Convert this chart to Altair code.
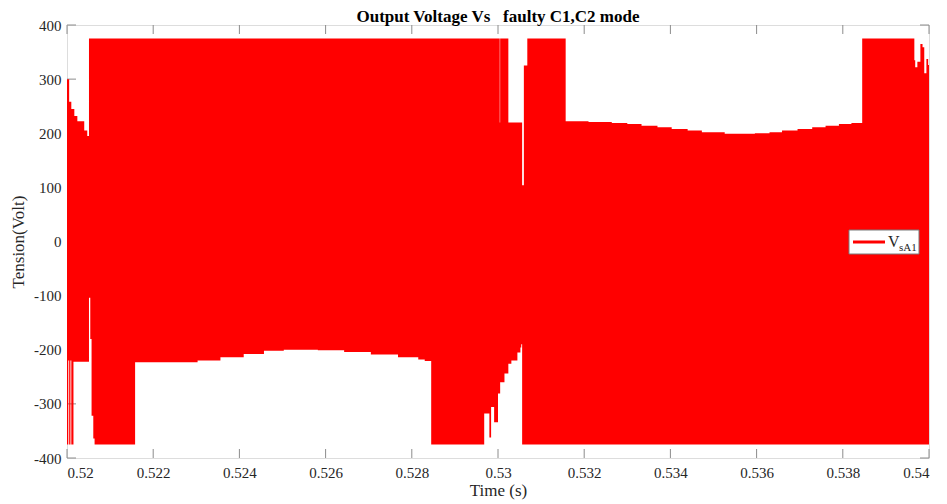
import altair as alt
import pandas as pd

# Envelope of the switching output voltage V_sA1 (step-wise, seconds / volts)
time_s = [
    0.52000, 0.52003, 0.52005, 0.52008, 0.52010, 0.52015, 0.52017, 0.52024,
    0.52040, 0.52047, 0.52051, 0.52054, 0.52057, 0.52061, 0.52064, 0.52158,
    0.52263, 0.52303, 0.52356, 0.52410, 0.52457, 0.52503, 0.52582, 0.52643,
    0.52705, 0.52768, 0.52815, 0.52830, 0.52845, 0.52968, 0.52980, 0.52984,
    0.52991, 0.53000, 0.53004, 0.53005, 0.53015, 0.53024, 0.53031, 0.53045,
    0.53052, 0.53054, 0.53056, 0.53060, 0.53068, 0.53157, 0.53210, 0.53264,
    0.53300, 0.53333, 0.53370, 0.53403, 0.53440, 0.53473, 0.53526, 0.53596,
    0.53630, 0.53659, 0.53695, 0.53729, 0.53760, 0.53791, 0.53820, 0.53845,
    0.53966, 0.53968, 0.53973, 0.53980, 0.53985, 0.53989, 0.53994, 0.53998,
    0.54000,
]
v_upper = [
    300, 300, 258, 258, 245, 245, 232, 222,
    205, 195, 375, 375, 375, 375, 375, 375,
    375, 375, 375, 375, 375, 375, 375, 375,
    375, 375, 375, 375, 375, 375, 375, 375,
    375, 375, 220, 375, 375, 220, 220, 220,
    220, 220, 104, 325, 375, 222, 221, 219,
    217, 214, 211, 208, 205, 202, 199, 200,
    202, 205, 208, 211, 214, 217, 219, 375,
    335, 322, 332, 365, 359, 311, 337, 326,
    326,
]
v_lower = [
    -375, -220, -375, -220, -375, -222, -222, -222,
    -222, -222, -104, -180, -322, -364, -375, -223,
    -223, -220, -214, -208, -202, -200, -201, -204,
    -209, -214, -218, -221, -375, -318, -362, -306,
    -334, -281, -281, -260, -244, -226, -220, -205,
    -196, -190, -375, -375, -375, -375, -375, -375,
    -375, -375, -375, -375, -375, -375, -375, -375,
    -375, -375, -375, -375, -375, -375, -375, -375,
    -375, -375, -375, -375, -375, -375, -375, -375,
    -375,
]

x_ticks = [0.52, 0.522, 0.524, 0.526, 0.528, 0.53, 0.532, 0.534, 0.536, 0.538, 0.54]
y_ticks = [-400, -300, -200, -100, 0, 100, 200, 300, 400]
title_text = "Output Voltage Vs\u00a0\u00a0 faulty C1,C2 mode"

W, H = 862, 433
FONT = "Liberation Serif"
INK = "#262626"
FRAME = "#8c8c8c"
RED = "#ff0000"

signal = pd.DataFrame({"t": time_s, "hi": v_upper, "lo": v_lower})
xt = pd.DataFrame({"t": x_ticks})
yt = pd.DataFrame({"lo": y_ticks})

xscale = alt.Scale(domain=[0.52, 0.54], nice=False, zero=False)
yscale = alt.Scale(domain=[-400, 400], nice=False, zero=False)

axis_common = dict(
    domain=False, ticks=False, grid=False,
    labelFont=FONT, labelFontSize=15, labelColor=INK,
    titleFont=FONT, titleFontSize=17, titleFontWeight="normal", titleColor=INK,
    labelExpr="toString(datum.value)",
)
x_axis = alt.Axis(values=x_ticks, title="Time (s)", labelPadding=7,
                  titlePadding=2, **axis_common)
y_axis = alt.Axis(values=y_ticks, title="Tension(Volt)", labelPadding=6,
                  titlePadding=6, **axis_common)

x_enc = alt.X("t:Q", scale=xscale, axis=x_axis)
y_enc = alt.Y("lo:Q", scale=yscale, axis=y_axis)

area = alt.Chart(signal).mark_area(
    color=RED, interpolate="step-after", opacity=1
).encode(x=x_enc, y=y_enc, y2="hi:Q")

# Inward ticks on all four sides of the frame
tick_len = 9
bottom_ticks = alt.Chart(xt).mark_rule(color=FRAME).encode(
    x=x_enc, y=alt.value(H), y2=alt.value(H - tick_len))
top_ticks = alt.Chart(xt).mark_rule(color=FRAME).encode(
    x=x_enc, y=alt.value(0), y2=alt.value(tick_len))
left_ticks = alt.Chart(yt).mark_rule(color=FRAME).encode(
    y=y_enc, x=alt.value(0), x2=alt.value(tick_len))
right_ticks = alt.Chart(yt).mark_rule(color=FRAME).encode(
    y=y_enc, x=alt.value(W), x2=alt.value(W - tick_len))

# Chart title, set just above the frame
title = alt.Chart(pd.DataFrame({"k": [title_text]})).mark_text(
    font=FONT, fontSize=17, fontWeight="bold", color="black",
    align="center", baseline="alphabetic"
).encode(x=alt.value(W / 2), y=alt.value(-3), text="k:N")

# Legend box with a red line sample and subscripted label
lx, ly = 782, 205
legend_box = alt.Chart(pd.DataFrame({"k": [0]})).mark_rect(
    fill="white", stroke="#7a7a7a", strokeWidth=1
).encode(x=alt.value(lx), x2=alt.value(lx + 70), y=alt.value(ly), y2=alt.value(ly + 24))
legend_line = alt.Chart(pd.DataFrame({"k": [0]})).mark_rule(
    color=RED, strokeWidth=3
).encode(x=alt.value(lx + 4), x2=alt.value(lx + 36), y=alt.value(ly + 12))
legend_v = alt.Chart(pd.DataFrame({"k": ["V"]})).mark_text(
    font=FONT, fontSize=16, color=INK, align="left", baseline="alphabetic"
).encode(x=alt.value(lx + 39), y=alt.value(ly + 17), text="k:N")
legend_sub = alt.Chart(pd.DataFrame({"k": ["sA1"]})).mark_text(
    font=FONT, fontSize=11, color=INK, align="left", baseline="alphabetic"
).encode(x=alt.value(lx + 50), y=alt.value(ly + 21), text="k:N")

chart = alt.layer(
    bottom_ticks, top_ticks, left_ticks, right_ticks, area,
    legend_box, legend_line, legend_v, legend_sub, title,
).properties(
    width=W, height=H,
    autosize=alt.AutoSizeParams(type="none"),
    padding={"left": 67, "top": 25, "right": 18, "bottom": 46},
).configure_view(
    stroke=FRAME, strokeWidth=1
).configure(background="white")

chart.save("out.html", embed_options={"renderer": "svg", "actions": False})
